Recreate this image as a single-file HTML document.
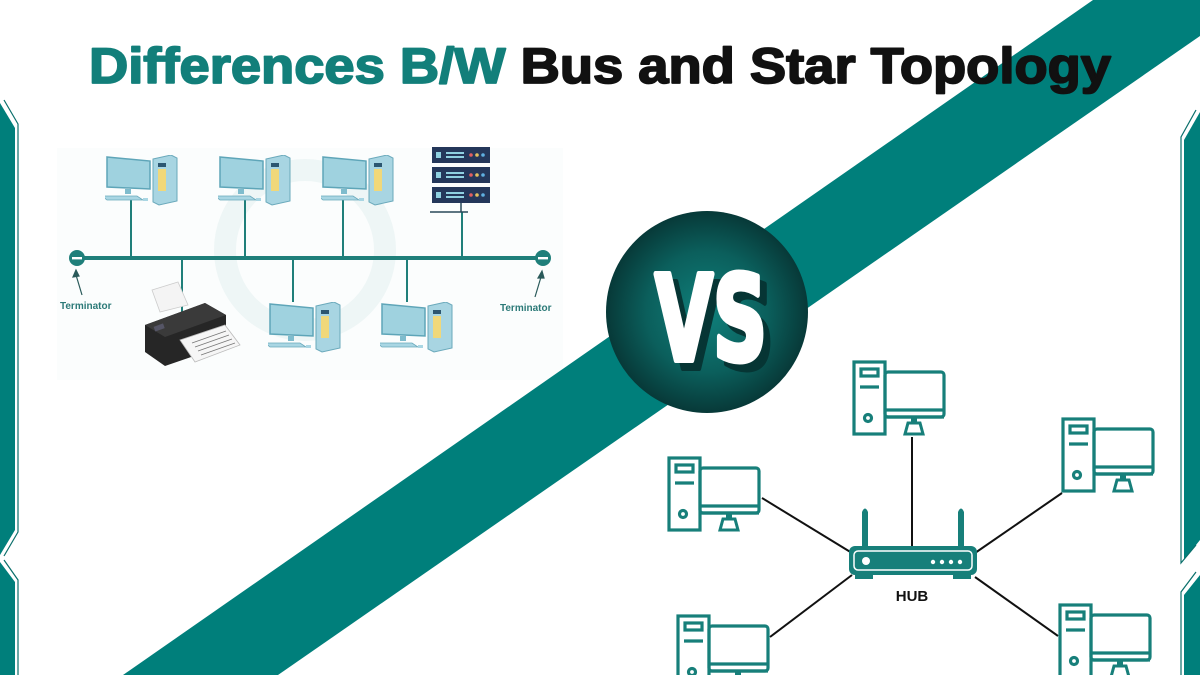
<!DOCTYPE html>
<html><head><meta charset="utf-8"><style>
html,body{margin:0;padding:0;background:#fff;}
svg{display:block;}
</style></head><body>
<svg width="1200" height="675" viewBox="0 0 1200 675" xmlns="http://www.w3.org/2000/svg">
<defs>
<radialGradient id="vsg" cx="0.5" cy="0.5" r="0.5">
<stop offset="0" stop-color="#0f807b"/><stop offset="0.6" stop-color="#0b5f5c"/><stop offset="1" stop-color="#073938"/>
</radialGradient>
<symbol id="pc" viewBox="0 0 94 76">
<g fill="none" stroke="#177f7a" stroke-width="3.2">
<rect x="2" y="2" width="31" height="72"/>
<rect x="9" y="9" width="17" height="7"/>
<line x1="8" y1="27" x2="27" y2="27"/>
<circle cx="16" cy="58" r="3.5"/>
<rect x="33" y="12" width="59" height="45" rx="3"/>
<line x1="33" y1="50" x2="92" y2="50"/>
<line x1="33" y1="57" x2="92" y2="57"/>
</g>
<rect x="59" y="57" width="6" height="6" fill="#177f7a"/>
<path d="M56 63 H68 L71 74 H53 Z" fill="none" stroke="#177f7a" stroke-width="3"/>
</symbol>
<symbol id="dpc" viewBox="0 0 80 55">
<path d="M2 2 L45 6 L45 34 L2 32 Z" fill="#9fd2df" stroke="#5ea5b8" stroke-width="1.5"/>
<rect x="20" y="34" width="6" height="5" fill="#7fbccd"/>
<path d="M-3 41 L32 41 L38 45 L2 45 Z" fill="#a9d6e3" stroke="#6aa9bb" stroke-width="0.8"/>
<rect x="38" y="43" width="5" height="3" fill="#a9d6e3"/>
<path d="M48 4 L66 0 L72 3 L72 46 L54 50 L48 47 Z" fill="#a8d5e2" stroke="#6aa9bb" stroke-width="1"/>
<rect x="53" y="8" width="8" height="4" fill="#2c5670"/>
<rect x="53" y="14" width="8" height="22" fill="#f0d87a"/>
</symbol>
</defs>

<!-- bus diagram area background -->
<rect x="57" y="148" width="506" height="232" fill="#fbfdfd"/>

<!-- diagonal band -->
<polygon points="1093,0 1252,0 278,675 123,675" fill="#007f7b"/>

<!-- side decorations -->
<polygon points="0,103 15,128 15,530 0,555" fill="#007f7b"/>
<polyline points="4,100 18,124 18,532 4,556" fill="none" stroke="#0a6f6b" stroke-width="1.2"/>
<polygon points="0,562 15,582 15,675 0,675" fill="#007f7b"/>
<polyline points="4,560 18,580 18,675" fill="none" stroke="#0a6f6b" stroke-width="1.2"/>
<polygon points="1200,112 1184,140 1184,560 1200,540" fill="#007f7b"/>
<polyline points="1196,110 1181,137 1181,563 1196,545" fill="none" stroke="#0a6f6b" stroke-width="1.2"/>
<polygon points="1200,575 1184,595 1184,675 1200,675" fill="#007f7b"/>
<polyline points="1196,572 1181,592 1181,675" fill="none" stroke="#0a6f6b" stroke-width="1.2"/>

<!-- title -->
<text x="600" y="83" text-anchor="middle" textLength="1022" lengthAdjust="spacingAndGlyphs" font-family="Liberation Sans, sans-serif" font-weight="bold" font-size="50" stroke-width="1.8" stroke-linejoin="round"><tspan fill="#127f7a" stroke="#127f7a">Differences B/W </tspan><tspan fill="#111" stroke="#111">Bus and Star Topology</tspan></text>

<circle cx="305" cy="250" r="80" fill="none" stroke="#eef6f6" stroke-width="22"/>
<g stroke="#1f7f7a" stroke-width="2">
<line x1="131" y1="200" x2="131" y2="258"/>
<line x1="245" y1="200" x2="245" y2="258"/>
<line x1="343" y1="200" x2="343" y2="258"/>
<line x1="462" y1="212" x2="462" y2="258"/>
<line x1="182" y1="258" x2="182" y2="312"/>
<line x1="293" y1="258" x2="293" y2="302"/>
<line x1="407" y1="258" x2="407" y2="302"/>
</g>
<line x1="77" y1="258" x2="543" y2="258" stroke="#1f7f7a" stroke-width="4"/>
<circle cx="77" cy="258" r="8" fill="#1f7f7a"/><rect x="72" y="257" width="10" height="2.4" fill="#fff"/>
<circle cx="543" cy="258" r="8" fill="#1f7f7a"/><rect x="538" y="257" width="10" height="2.4" fill="#fff"/>
<g stroke="#2a5a5a" stroke-width="1.2" fill="#2a5a5a">
<line x1="82" y1="295" x2="76" y2="275"/><path d="M76 270 L73 277 L79 276 Z"/>
<line x1="535" y1="297" x2="541" y2="277"/><path d="M542 271 L538 278 L544 278 Z"/>
</g>
<text x="60" y="309" font-family="Liberation Sans, sans-serif" font-weight="bold" font-size="10" fill="#2c7a78">Terminator</text>
<text x="500" y="311" font-family="Liberation Sans, sans-serif" font-weight="bold" font-size="10" fill="#2c7a78">Terminator</text>

<use href="#dpc" x="105" y="155" width="80" height="55"/>
<use href="#dpc" x="218" y="155" width="80" height="55"/>
<use href="#dpc" x="321" y="155" width="80" height="55"/>
<use href="#dpc" x="268" y="302" width="80" height="55"/>
<use href="#dpc" x="380" y="302" width="80" height="55"/>

<!-- server -->
<g>
<rect x="432" y="147" width="58" height="16" fill="#24375a"/>
<rect x="432" y="167" width="58" height="16" fill="#24375a"/>
<rect x="432" y="187" width="58" height="16" fill="#24375a"/>
<g fill="#8fd0e0">
<rect x="436" y="152" width="5" height="6"/><rect x="446" y="152" width="18" height="2"/><rect x="446" y="156" width="18" height="2"/>
<rect x="436" y="172" width="5" height="6"/><rect x="446" y="172" width="18" height="2"/><rect x="446" y="176" width="18" height="2"/>
<rect x="436" y="192" width="5" height="6"/><rect x="446" y="192" width="18" height="2"/><rect x="446" y="196" width="18" height="2"/>
</g>
<g><circle cx="471" cy="155" r="1.8" fill="#e06060"/><circle cx="477" cy="155" r="1.8" fill="#e0c060"/><circle cx="483" cy="155" r="1.8" fill="#60b0e0"/>
<circle cx="471" cy="175" r="1.8" fill="#e06060"/><circle cx="477" cy="175" r="1.8" fill="#e0c060"/><circle cx="483" cy="175" r="1.8" fill="#60b0e0"/>
<circle cx="471" cy="195" r="1.8" fill="#e06060"/><circle cx="477" cy="195" r="1.8" fill="#e0c060"/><circle cx="483" cy="195" r="1.8" fill="#60b0e0"/></g>
<line x1="430" y1="212" x2="468" y2="212" stroke="#2a4a5a" stroke-width="1.5"/>
<line x1="461" y1="203" x2="461" y2="212" stroke="#2a4a5a" stroke-width="1.5"/>
</g>

<!-- printer -->
<g>
<path d="M152 290 L178 282 L188 305 L160 312 Z" fill="#f4f4f4" stroke="#ccc" stroke-width="0.8"/>
<path d="M145 325 L205 303 L226 315 L226 345 L165 366 L145 352 Z" fill="#262626"/>
<path d="M145 325 L205 303 L226 315 L165 337 Z" fill="#3a3a3a"/>
<rect x="154" y="325" width="10" height="5" fill="#556" transform="rotate(-20 159 327)"/>
<path d="M180 340 L225 325 L240 345 L195 362 Z" fill="#f6f6f6" stroke="#bbb" stroke-width="0.8"/>
<g stroke="#777" stroke-width="0.8"><line x1="192" y1="343" x2="226" y2="331"/><line x1="195" y1="347" x2="229" y2="335"/><line x1="198" y1="351" x2="232" y2="339"/><line x1="201" y1="355" x2="235" y2="343"/></g>
</g>

<!-- VS -->
<circle cx="707" cy="312" r="101" fill="url(#vsg)"/>
<text x="713" y="363" text-anchor="middle" font-family="DejaVu Sans, sans-serif" font-weight="bold" font-size="118" fill="#063534" stroke="#063534" stroke-width="6" stroke-linejoin="round" transform="translate(5,5)" textLength="112" lengthAdjust="spacingAndGlyphs">VS</text>
<text x="711" y="360" text-anchor="middle" font-family="DejaVu Sans, sans-serif" font-weight="bold" font-size="118" fill="#fff" stroke="#fff" stroke-width="6" stroke-linejoin="round" textLength="112" lengthAdjust="spacingAndGlyphs">VS</text>

<!-- star topology -->
<g stroke="#111" stroke-width="2">
<line x1="912" y1="437" x2="912" y2="547"/>
<line x1="762" y1="498" x2="852" y2="553"/>
<line x1="1062" y1="493" x2="975" y2="553"/>
<line x1="770" y1="637" x2="852" y2="575"/>
<line x1="1058" y1="636" x2="975" y2="577"/>
</g>
<use href="#pc" x="852" y="360" width="94" height="76"/>
<use href="#pc" x="667" y="456" width="94" height="76"/>
<use href="#pc" x="1061" y="417" width="94" height="76"/>
<use href="#pc" x="676" y="614" width="94" height="76"/>
<use href="#pc" x="1058" y="603" width="94" height="76"/>

<!-- hub -->
<g fill="#177f7a">
<path d="M862 547 V512 Q865 505 868 512 V547 Z"/>
<path d="M958 547 V512 Q961 505 964 512 V547 Z"/>
<rect x="849" y="546" width="128" height="29" rx="6"/>
<rect x="855" y="575" width="18" height="4"/>
<rect x="953" y="575" width="18" height="4"/>
</g>
<rect x="854" y="551" width="118" height="19" rx="4" fill="none" stroke="#fff" stroke-width="1.5"/>
<circle cx="866" cy="561" r="4" fill="#fff"/>
<g fill="#fff"><circle cx="933" cy="562" r="2.2"/><circle cx="942" cy="562" r="2.2"/><circle cx="951" cy="562" r="2.2"/><circle cx="960" cy="562" r="2.2"/></g>
<text x="912" y="601" text-anchor="middle" font-family="Liberation Sans, sans-serif" font-weight="bold" font-size="15" fill="#111">HUB</text>
</svg>
</body></html>
